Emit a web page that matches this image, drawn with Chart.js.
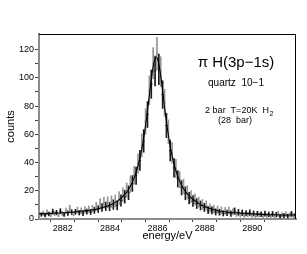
<!DOCTYPE html>
<html>
<head>
<meta charset="utf-8">
<script src="https://cdn.jsdelivr.net/npm/chart.js@4/dist/chart.umd.min.js"></script>
<style>
  html, body { margin: 0; padding: 0; background: #fff; }
  canvas { display: block; }
</style>
</head>
<body>
<canvas id="spectrum" width="307" height="254"></canvas>
<script>
// Measured spectrum, pi H (3p-1s), quartz 10-1
const energy = [
    2881.10, 2881.18, 2881.26, 2881.34, 2881.42, 2881.50, 2881.58, 2881.66, 2881.74, 2881.82,
    2881.90, 2881.98, 2882.06, 2882.14, 2882.22, 2882.30, 2882.38, 2882.46, 2882.54, 2882.62,
    2882.70, 2882.78, 2882.86, 2882.94, 2883.02, 2883.10, 2883.18, 2883.26, 2883.34, 2883.42,
    2883.50, 2883.58, 2883.66, 2883.74, 2883.82, 2883.90, 2883.98, 2884.06, 2884.14, 2884.22,
    2884.30, 2884.38, 2884.46, 2884.54, 2884.62, 2884.70, 2884.78, 2884.86, 2884.94, 2885.02,
    2885.10, 2885.18, 2885.26, 2885.34, 2885.42, 2885.50, 2885.58, 2885.66, 2885.74, 2885.82,
    2885.90, 2885.98, 2886.06, 2886.14, 2886.22, 2886.30, 2886.38, 2886.46, 2886.54, 2886.62,
    2886.70, 2886.78, 2886.86, 2886.94, 2887.02, 2887.10, 2887.18, 2887.26, 2887.34, 2887.42,
    2887.50, 2887.58, 2887.66, 2887.74, 2887.82, 2887.90, 2887.98, 2888.06, 2888.14, 2888.22,
    2888.30, 2888.38, 2888.46, 2888.54, 2888.62, 2888.70, 2888.78, 2888.86, 2888.94, 2889.02,
    2889.10, 2889.18, 2889.26, 2889.34, 2889.42, 2889.50, 2889.58, 2889.66, 2889.74, 2889.82,
    2889.90, 2889.98, 2890.06, 2890.14, 2890.22, 2890.30, 2890.38, 2890.46, 2890.54, 2890.62,
    2890.70, 2890.78, 2890.86, 2890.94, 2891.02, 2891.10, 2891.18, 2891.26, 2891.34, 2891.42,
    2891.50, 2891.58, 2891.66, 2891.74, 2891.82
];
const counts = [
    3.2, 4.1, 2.6, 4.8, 3.5, 2.9, 5.2, 3.8, 4.6, 2.7,
    5.5, 4.0, 3.1, 5.8, 4.2, 7.4, 4.9, 3.6, 5.1, 6.3,
    4.4, 5.9, 3.9, 6.6, 5.2, 6.9, 5.0, 7.2, 6.1, 8.9,
    7.0, 10.8, 8.2, 11.5, 9.0, 11.9, 8.8, 12.3, 10.2, 12.8,
    9.6, 14.9, 13.1, 17.2, 15.8, 20.4, 18.6, 24.8, 25.1, 31.0,
    30.6, 39.2, 41.5, 52.0, 55.3, 69.1, 74.0, 91.2, 95.5, 110.3,
    104.8, 117.2, 106.0, 104.3, 88.1, 82.4, 66.2, 61.8, 48.5, 46.9,
    36.2, 35.8, 28.4, 27.9, 22.1, 23.0, 18.2, 18.9, 14.8, 15.9,
    12.7, 13.9, 10.9, 11.8, 9.6, 10.4, 8.2, 9.7, 6.3, 7.8,
    6.1, 7.0, 5.0, 6.6, 4.8, 6.1, 4.0, 5.7, 4.3, 6.0,
    3.8, 5.1, 5.6, 3.4, 4.7, 3.0, 4.4, 2.7, 4.1, 3.1,
    4.5, 2.6, 3.9, 2.3, 3.7, 2.9, 3.4, 2.1, 3.8, 2.5,
    3.3, 2.0, 3.6, 2.2, 3.1, 3.7, 1.9, 3.0, 2.4, 3.5,
    2.1, 2.8, 3.6, 2.3, 2.7
];
const errors = [
    1.3, 1.6, 1.1, 1.7, 1.4, 1.2, 1.8, 1.5, 1.6, 1.2,
    1.8, 1.5, 1.3, 1.9, 1.6, 2.4, 1.7, 1.4, 1.8, 2.1,
    1.6, 2.0, 1.5, 2.2, 1.8, 2.3, 1.8, 2.4, 2.1, 2.9,
    2.4, 3.6, 2.8, 3.8, 3.0, 3.9, 2.9, 4.1, 3.4, 4.2,
    3.1, 4.5, 4.0, 4.9, 4.6, 5.2, 4.9, 5.8, 5.6, 6.4,
    6.2, 7.0, 7.1, 8.1, 8.0, 9.0, 9.2, 10.2, 10.0, 11.0,
    10.6, 11.4, 10.8, 10.6, 9.8, 9.5, 8.6, 8.4, 7.4, 7.3,
    6.5, 6.5, 5.8, 5.7, 5.1, 5.2, 4.6, 4.7, 4.1, 4.3,
    3.8, 4.0, 3.5, 3.6, 3.2, 3.4, 2.9, 3.2, 2.5, 2.9,
    2.5, 2.7, 2.2, 2.6, 2.1, 2.5, 1.9, 2.4, 2.0, 2.4,
    1.9, 2.2, 2.3, 1.7, 2.1, 1.6, 2.0, 1.5, 1.9, 1.6,
    2.0, 1.5, 1.8, 1.4, 1.8, 1.5, 1.7, 1.3, 1.8, 1.4,
    1.7, 1.3, 1.8, 1.4, 1.6, 1.8, 1.3, 1.6, 1.4, 1.7,
    1.3, 1.6, 1.8, 1.4, 1.5
];

// Fitted line shape
const fitEnergy = [
    2881.0, 2881.5, 2882.0, 2882.5, 2883.0, 2883.5, 2884.0, 2884.25, 2884.5, 2884.75,
    2884.95, 2885.15, 2885.35, 2885.45, 2885.55, 2885.6, 2885.65, 2885.7, 2885.75, 2885.85,
    2885.95, 2886.05, 2886.15, 2886.2, 2886.25, 2886.3, 2886.35, 2886.45, 2886.55, 2886.75,
    2886.95, 2887.15, 2887.4, 2887.65, 2887.9, 2888.4, 2888.9, 2889.4, 2889.9, 2890.4,
    2890.9, 2891.85
];
const fitCounts = [
    3.7, 4.0, 4.4, 5.0, 5.9, 7.3, 9.9, 12.1, 15.3, 20.2,
    26.3, 35.8, 50.5, 60.7, 72.9, 79.6, 86.5, 93.5, 100.1, 110.5,
    114.5, 110.5, 100.1, 93.5, 86.5, 79.6, 72.9, 60.7, 50.5, 35.8,
    26.3, 20.2, 15.3, 12.1, 9.6, 6.6, 5.0, 4.2, 3.7, 3.3,
    3.0, 2.8
];

const xTicksLabelled = [2882, 2884, 2886, 2888, 2890];
const yTicksLabelled = [0, 20, 40, 60, 80, 100, 120];

Chart.defaults.font.family = '"Liberation Sans", Arial, sans-serif';
Chart.defaults.color = '#000';

// two alternating runs: black and grey
const barColors = energy.map((e, i) => (i % 2 === 0 ? '#1a1a1a' : '#959595'));

// frame on top/right plus the text block in the corner
const framePlugin = {
    id: 'frameAndText',
    afterDraw(chart) {
        const ctx = chart.ctx;
        const a = chart.chartArea;
        ctx.save();
        ctx.strokeStyle = '#000';
        ctx.lineWidth = 1;
        ctx.beginPath();
        ctx.moveTo(a.left, a.top + 0.5);
        ctx.lineTo(a.right - 0.5, a.top + 0.5);
        ctx.lineTo(a.right - 0.5, a.bottom);
        ctx.stroke();

        ctx.fillStyle = '#000';
        ctx.textAlign = 'center';
        ctx.textBaseline = 'middle';
        ctx.font = '15px "Liberation Sans", Arial, sans-serif';
        ctx.fillText('\u03c0 H(3p\u22121s)', 236, 63);
        ctx.font = '10px "Liberation Sans", Arial, sans-serif';
        ctx.fillText('quartz  10\u22121', 236, 83);

        ctx.font = '9px "Liberation Sans", Arial, sans-serif';
        const line = '2 bar  T=20K  H';
        const w = ctx.measureText(line).width;
        ctx.textAlign = 'left';
        ctx.fillText(line, 240 - w / 2 - 3, 111);
        ctx.font = '7px "Liberation Sans", Arial, sans-serif';
        ctx.fillText('2', 240 + w / 2 - 2.5, 114);
        ctx.textAlign = 'center';
        ctx.font = '9px "Liberation Sans", Arial, sans-serif';
        ctx.fillText('(28  bar)', 235, 121);
        ctx.restore();
    }
};

new Chart(document.getElementById('spectrum'), {
    type: 'bar',
    data: {
        datasets: [{
            type: 'line',
            label: 'fit',
            data: fitEnergy.map((e, i) => ({ x: e, y: fitCounts[i] })),
            borderColor: '#000',
            borderWidth: 1.1,
            pointRadius: 0,
            cubicInterpolationMode: 'monotone',
            order: 0
        }, {
            type: 'scatter',
            label: 'points',
            data: energy.map((e, i) => ({ x: e, y: counts[i] })),
            pointStyle: 'line',
            pointRadius: 1.2,
            borderWidth: 1,
            borderColor: barColors,
            backgroundColor: barColors,
            order: 1
        }, {
            label: 'errors',
            data: energy.map((e, i) => ({ x: e, y: [counts[i] - errors[i], counts[i] + errors[i]] })),
            backgroundColor: barColors,
            borderWidth: 0,
            barThickness: 1,
            grouped: false,
            order: 2
        }]
    },
    options: {
        responsive: false,
        animation: false,
        layout: { padding: { left: 0, right: 11, top: 34, bottom: 0 } },
        plugins: {
            legend: { display: false },
            tooltip: { enabled: false }
        },
        scales: {
            x: {
                type: 'linear',
                min: 2881.0,
                max: 2891.85,
                offset: false,
                afterFit: s => { s.height = 35; },
                afterBuildTicks: s => { s.ticks = s.ticks.filter(t => Number.isInteger(t.value)); },
                ticks: {
                    stepSize: 1,
                    autoSkip: false,
                    maxRotation: 0,
                    padding: 1,
                    font: { size: 9 },
                    callback: v => (xTicksLabelled.includes(v) ? String(v) : '')
                },
                grid: { drawOnChartArea: false, drawTicks: true, tickLength: 3, color: '#444' },
                border: { color: '#8c8c8c', width: 2 },
                title: {
                    display: true,
                    text: 'energy/eV',
                    font: { size: 11 },
                    padding: { top: 0, bottom: 11 }
                }
            },
            y: {
                min: 0,
                max: 131,
                afterFit: s => { s.width = 39; },
                afterBuildTicks: s => { s.ticks = s.ticks.filter(t => t.value % 10 === 0); },
                ticks: {
                    stepSize: 10,
                    autoSkip: false,
                    padding: 1,
                    font: { size: 9 },
                    callback: v => (yTicksLabelled.includes(v) ? String(v) : '')
                },
                grid: { drawOnChartArea: false, drawTicks: true, tickLength: 4, color: '#444' },
                border: { color: '#8c8c8c', width: 2 },
                title: {
                    display: true,
                    text: 'counts',
                    font: { size: 11 },
                    padding: { top: 4, bottom: 0 }
                }
            }
        }
    },
    plugins: [framePlugin]
});
</script>
</body>
</html>
